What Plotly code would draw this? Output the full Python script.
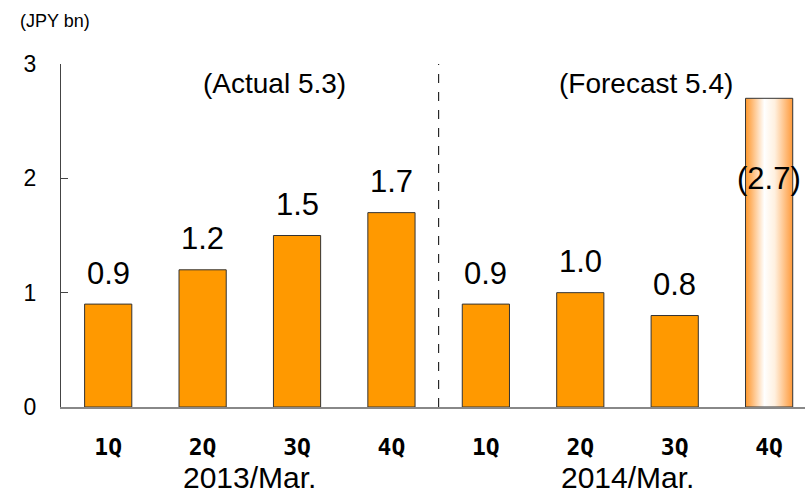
import plotly.graph_objects as go

quarters = ["1Q", "2Q", "3Q", "4Q", "1Q", "2Q", "3Q", "4Q"]
values = [0.9, 1.2, 1.5, 1.7, 0.9, 1.0, 0.8, 2.7]
labels = ["0.9", "1.2", "1.5", "1.7", "0.9", "1.0", "0.8", "(2.7)"]
forecast_flags = [False, False, False, False, False, False, False, True]
years = ["2013/Mar.", "2014/Mar."]
totals = ["(Actual 5.3)", "(Forecast 5.4)"]
y_ticks = [0, 1, 2, 3]
unit = "(JPY bn)"

ORANGE = "#FF9900"
EDGE = "#333333"
BAR_W = 0.5
FONT = "Liberation Sans, Arial, sans-serif"

xs = list(range(len(values)))
fig = go.Figure()

# solid (actual / fixed) bars
sx = [x for x, f in zip(xs, forecast_flags) if not f]
sy = [v for v, f in zip(values, forecast_flags) if not f]
fig.add_trace(go.Bar(x=sx, y=sy, width=BAR_W,
                     marker=dict(color=ORANGE, line=dict(color=EDGE, width=1)),
                     hoverinfo="skip", showlegend=False))

# forecast bar drawn with a horizontal gradient fill
for x, v, f in zip(xs, values, forecast_flags):
    if not f:
        continue
    x0, x1 = x - BAR_W / 2, x + BAR_W / 2
    fig.add_trace(go.Scatter(
        x=[x0, x1, x1, x0, x0], y=[0, 0, v, v, 0],
        mode="lines", fill="toself",
        line=dict(color=EDGE, width=1),
        fillgradient=dict(type="horizontal",
                          colorscale=[[0, "#FF9A2E"], [0.12, "#FFB56A"],
                                      [0.40, "#FFFFFF"], [0.62, "#FFF0DF"],
                                      [1, "#FF9A3A"]]),
        hoverinfo="skip", showlegend=False))

annotations = []
for x, v, t, f in zip(xs, values, labels, forecast_flags):
    annotations.append(dict(x=x, y=v, xref="x", yref="y", text=t,
                            showarrow=False, yanchor="middle",
                            yshift=-80 if f else 31,
                            font=dict(family=FONT, size=31, color="#000000")))

group_centers = [1.5, 5.5]
for c, yr in zip(group_centers, years):
    annotations.append(dict(x=c, y=-0.205, xref="x", yref="paper", text=yr,
                            showarrow=False, yanchor="middle",
                            font=dict(family=FONT, size=30, color="#000000")))
total_pos = [1.76, 5.70]
for c, tot in zip(total_pos, totals):
    annotations.append(dict(x=c, y=2.83, xref="x", yref="y", text=tot,
                            showarrow=False, yanchor="middle",
                            font=dict(family=FONT, size=28, color="#000000")))
annotations.append(dict(x=(55 - 61) / 744, y=1 + (64 - 21) / 343,
                        xref="paper", yref="paper", text=unit,
                        showarrow=False, xanchor="center", yanchor="middle",
                        font=dict(family=FONT, size=18, color="#000000")))

fig.update_layout(
    width=805, height=495,
    margin=dict(l=61, r=0, t=64, b=88),
    paper_bgcolor="white", plot_bgcolor="white",
    annotations=annotations,
    shapes=[dict(type="line", xref="x", yref="y", x0=3.5, x1=3.5, y0=0, y1=3,
                 line=dict(color="#000000", width=1, dash="dash"))],
)

fig.update_xaxes(range=[-0.5, 7.38], tickmode="array", tickvals=xs,
                 ticktext=quarters, showgrid=False, zeroline=False,
                 showline=True, linecolor="#888888", linewidth=1.5,
                 ticks="", ticklabelstandoff=19,
                 tickfont=dict(family="DejaVu Sans Mono, Liberation Mono, monospace",
                               size=23, color="#000000", weight="bold"))
fig.update_yaxes(range=[0, 3], tickmode="array", tickvals=y_ticks,
                 showgrid=False, zeroline=False, showline=True,
                 linecolor="#444444", linewidth=1, ticks="inside", ticklen=7,
                 tickcolor="#444444", ticklabelstandoff=19,
                 tickfont=dict(family=FONT, size=23, color="#000000"))

fig.write_html("out.html")
